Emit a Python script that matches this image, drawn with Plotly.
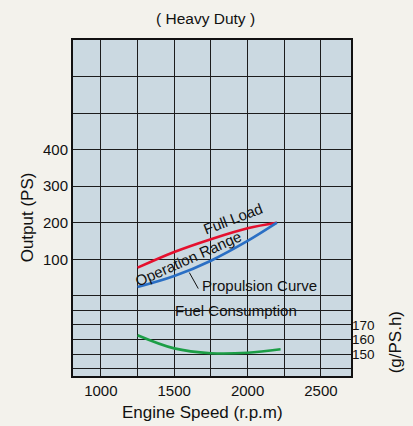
import plotly.graph_objects as go

# ---- data ----
rpm_full = [1250, 1500, 1750, 2000, 2200]
ps_full = [77, 120, 155, 185, 200]

rpm_prop = [1250, 1500, 1750, 2000, 2200]
ps_prop = [24, 54, 96, 150, 200]

rpm_fuel = [1250, 1500, 1750, 2000, 2225]
gps_fuel = [163, 154, 150.7, 151, 153.4]

x_tickvals = [1000, 1250, 1500, 1750, 2000, 2250, 2500]
x_ticktext = ["1000", "", "1500", "", "2000", "", "2500"]
y_tickvals = [0, 100, 200, 300, 400, 500, 600, 700]
y_ticktext = ["", "100", "200", "300", "400", "", "", ""]
y2_tickvals = [140, 150, 160, 170, 180, 190]
y2_ticktext = ["", "150", "160", "170", "", ""]

FONT = "Liberation Sans, Arial, sans-serif"
GRID = "#1c1c1c"
BG = "#f3f2ec"

fig = go.Figure()
fig.add_trace(go.Scatter(x=rpm_full, y=ps_full, mode="lines",
                         line=dict(color="#e5102e", width=2.6, shape="spline"),
                         showlegend=False, hoverinfo="skip"))
fig.add_trace(go.Scatter(x=rpm_prop, y=ps_prop, mode="lines",
                         line=dict(color="#2a6fc4", width=2.6, shape="spline"),
                         showlegend=False, hoverinfo="skip"))
fig.add_trace(go.Scatter(x=rpm_fuel, y=gps_fuel, mode="lines", yaxis="y2",
                         line=dict(color="#1c9e46", width=2.6, shape="spline"),
                         showlegend=False, hoverinfo="skip"))

ann_font = dict(family=FONT, size=15, color="#111")
C = dict(xanchor="center", yanchor="middle", showarrow=False)
annotations = [
    dict(text="Full Load", x=1901, y=212, textangle=-21, font=ann_font, **C),
    dict(text="Operation Range", x=1596, y=103, textangle=-24, font=ann_font, **C),
    dict(text="Propulsion Curve", x=1676, y=29, xanchor="left", yanchor="middle",
         showarrow=False, font=ann_font),
    dict(text="Fuel Consumption", x=1921, y=-40, font=ann_font, **C),
    dict(text="( Heavy Duty )", xref="paper", yref="paper", x=0.478, y=1.0626,
         font=dict(family=FONT, size=15.5, color="#111"), **C),
    dict(text="Output (PS)", xref="paper", yref="paper", x=-0.165, y=0.4726, textangle=-90,
         font=dict(family=FONT, size=17, color="#111"), **C),
    dict(text="(g/PS.h)", xref="paper", yref="paper", x=1.158, y=0.10, textangle=-90,
         font=dict(family=FONT, size=17, color="#111"), **C),
    dict(text="Engine Speed (r.p.m)", xref="paper", yref="paper", x=0.4676, y=-0.1085,
         font=dict(family=FONT, size=17, color="#111"), **C),
]

fig.update_layout(
    width=413, height=426, autosize=False,
    margin=dict(l=73, r=62, t=40, b=50),
    paper_bgcolor=BG, plot_bgcolor="#cbd9e1",
    font=dict(family=FONT, size=15, color="#111"),
    annotations=annotations,
    shapes=[dict(type="line", x0=1603, y0=63.6, x1=1664, y1=19.7,
                 line=dict(color="#111", width=1))],
    xaxis=dict(range=[810, 2705], tickvals=x_tickvals, ticktext=x_ticktext,
               showgrid=True, gridcolor=GRID, gridwidth=1.3, zeroline=False,
               showline=True, linecolor="#111", linewidth=2, mirror=True,
               ticks="", fixedrange=True),
    yaxis=dict(range=[-219.5, 700], tickvals=y_tickvals, ticktext=y_ticktext,
               showgrid=True, gridcolor=GRID, gridwidth=1.3, zeroline=False,
               showline=True, linecolor="#111", linewidth=2, mirror=True,
               ticks="", fixedrange=True),
    yaxis2=dict(range=[135.1, 365], tickvals=y2_tickvals, ticktext=y2_ticktext,
                overlaying="y", side="right", tickfont=dict(size=13.5),
                showgrid=True, gridcolor=GRID, gridwidth=1.3, zeroline=False,
                showline=False, ticks="", fixedrange=True),
)

fig.write_html("out.html",
               config={"displayModeBar": False},
               post_script="document.body.style.margin='0';"
                           "document.body.style.background='%s';" % BG)
